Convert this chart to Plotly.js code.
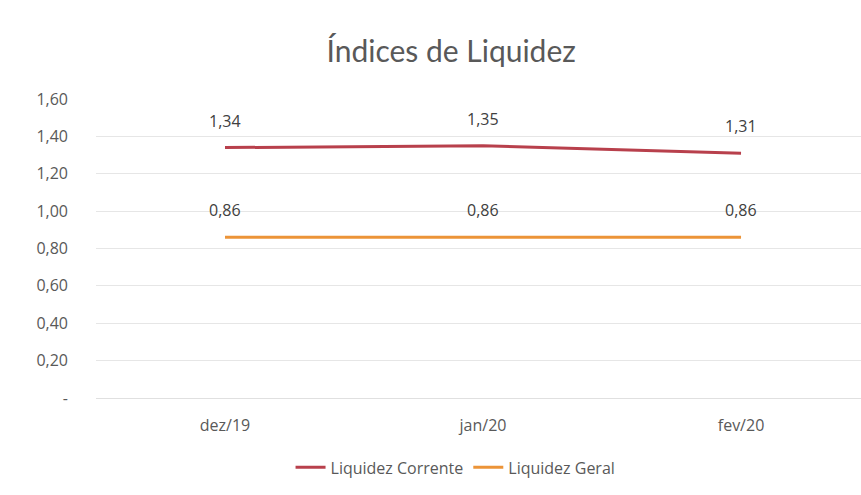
<!DOCTYPE html>
<html><head><meta charset="utf-8">
<script src="https://cdn.plot.ly/plotly-3.0.1.min.js"></script>
<style>html,body{margin:0;padding:0;background:#fff}#c{width:861px;height:495px}</style>
</head><body><div id="c"></div>
<script>
const categories = ["dez/19", "jan/20", "fev/20"];
const liquidezCorrente = [1.34, 1.35, 1.31];
const liquidezGeral = [0.86, 0.86, 0.86];
const yTickVals = [0, 0.2, 0.4, 0.6, 0.8, 1.0, 1.2, 1.4, 1.6];
const yTickText = ["-", "0,20", "0,40", "0,60", "0,80", "1,00", "1,20", "1,40", "1,60"];

const fmt = v => v.toFixed(2).replace('.', ',');
const labelFont = {family: "Open Sans, sans-serif", size: 16, color: "#404040"};

const traces = [
  {x: categories, y: liquidezCorrente, name: "Liquidez Corrente", type: "scatter", mode: "lines",
   line: {color: "#B8404C", width: 3}},
  {x: categories, y: liquidezGeral, name: "Liquidez Geral", type: "scatter", mode: "lines",
   line: {color: "#EC9438", width: 3}}
];

const annotations = [];
[liquidezCorrente, liquidezGeral].forEach(series => {
  series.forEach((v, i) => annotations.push({
    x: categories[i], y: v, xref: "x", yref: "y", text: fmt(v), showarrow: false,
    yshift: 27, font: labelFont
  }));
});

const layout = {
  width: 861, height: 495,
  paper_bgcolor: "#fff", plot_bgcolor: "#fff",
  margin: {l: 96, r: 0, t: 99, b: 97},
  title: {text: "Índices de Liquidez", x: 0.524, xanchor: "center", y: 0.896, yanchor: "middle",
          font: {family: "Lato, sans-serif", size: 30, color: "#595959"}},
  xaxis: {type: "category", range: [-0.5, 2.465], showgrid: false, zeroline: false,
          showline: false, ticks: "", ticklabelstandoff: 16,
          tickfont: {family: "Open Sans, sans-serif", size: 16, color: "#595959"}},
  yaxis: {range: [0, 1.6], tickvals: yTickVals, ticktext: yTickText, showgrid: true,
          gridcolor: "#E6E6E6", gridwidth: 1, zeroline: true, zerolinecolor: "#E0E0E0", ticks: "",
          ticklabelstandoff: 27,
          tickfont: {family: "Open Sans, sans-serif", size: 16, color: "#595959"}},
  showlegend: true,
  legend: {orientation: "h", x: 0.47, xanchor: "center", y: -0.232, yanchor: "middle",
           font: {family: "Open Sans, sans-serif", size: 16, color: "#595959"}},
  annotations: annotations
};
Plotly.newPlot("c", traces, layout, {displayModeBar: false, staticPlot: true});
</script></body></html>
